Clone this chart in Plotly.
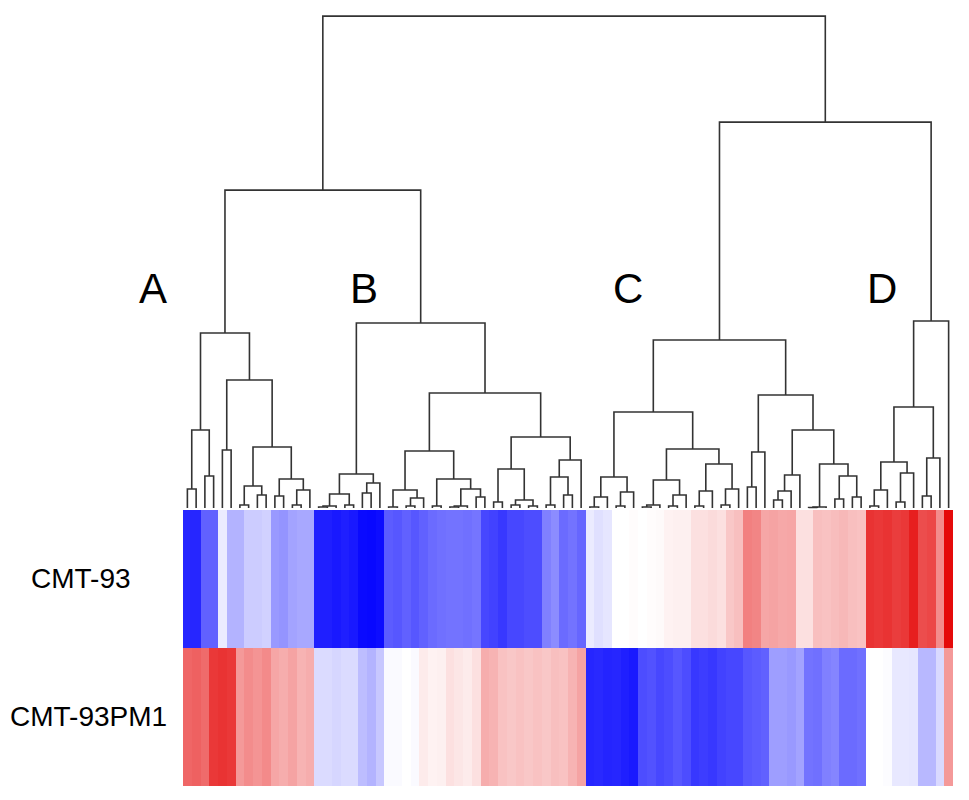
import plotly.graph_objects as go

# ---------------- data ----------------
# dendrogram sub-trees: internal node = [merge height, left, right]; leaf = 0
tree_A = [175, [78, [19, 0, 0], [32, 0, 0]],
          [128, [58, 0, 0], [61, [22, [3, 0, 0], [13, 0, 0]], [29, [12, 0, 0], [18, [3, 0, 0], 0]]]]]
tree_B1 = [34, [14, [2, [1, 0, 0], 0], [3, 0, 0]], [25, [15, 0, 0], 0]]
tree_B2a = [57, [18, [1, 0, 0], [10, [2, 0, 0], 0]],
            [29, [2, 0, 0], [19, [2, [1, 0, 0], 0], [11, 0, 0]]]]
tree_B2b = [71, [39, [6, 0, 0], [8, [3, 0, 0], [2, 0, 0]]],
            [48, [31, [3, 0, 0], [13, 0, 0]], 0]]
tree_C1 = [96, [31, [11, [1, 0, 0], 0], [16, [2, 0, 0], 0]],
           [59, [28, [3, [1, 0, 0], 0], [13, [2, 0, 0], 0]],
            [44, [17, [2, 0, 0], 0], [19, [3, 0, 0], 0]]]]
tree_C2 = [113, [56, [21, 0, 0], 0],
           [78, [33, [17, [8, 0, 0], 0], 0],
            [44, [1, [0.5, 0, 0], 0], [32, [9, 0, 0], [11, 0, 0]]]]]
tree_D = [187, [101, [46, [18, [2, 0, 0], 0], [35, [6, 0, 0], 0]], [50, [12, 0, 0], 0]], 0]

height_B = 185
height_B2 = 115
height_C = 168
height_AB = 318
height_CD = 386
height_root = 492

cluster_labels = ["A", "B", "C", "D"]
row_labels = ["CMT-93", "CMT-93PM1"]

# expression values per leaf (88 leaves), row CMT-93
values_cmt93 = [
    -0.85, -0.85, -0.62, -0.62, -0.08, -0.30, -0.30, -0.20, -0.20, -0.18,
    -0.40, -0.42, -0.36, -0.34, -0.34,
    -0.88, -0.88, -0.90, -0.88, -0.90, -0.96, -0.97, -0.95,
    -0.64, -0.66, -0.62, -0.66, -0.62, -0.58, -0.56, -0.55, -0.55, -0.56, -0.54,
    -0.72, -0.74, -0.78, -0.72, -0.72, -0.70, -0.70, -0.50, -0.45, -0.58, -0.55, -0.60,
    -0.08, -0.12, -0.10, 0.00, 0.00, 0.01, 0.00, 0.01, 0.02, 0.05, 0.06, 0.06,
    0.12, 0.12, 0.14, 0.12, 0.22, 0.25, 0.50, 0.48, 0.35, 0.36, 0.34, 0.35,
    0.12, 0.12, 0.25, 0.24, 0.26, 0.28, 0.25, 0.24,
    0.80, 0.78, 0.80, 0.76, 0.78, 0.88, 0.70, 0.72, 0.45, 0.96,
]
# row CMT-93PM1
values_cmt93pm1 = [
    0.60, 0.62, 0.58, 0.78, 0.80, 0.78, 0.40, 0.45, 0.42, 0.46,
    0.35, 0.32, 0.36, 0.30, 0.32,
    -0.14, -0.14, -0.16, -0.14, -0.14, -0.26, -0.30, -0.22,
    -0.02, -0.02, 0.00, -0.02, 0.08, 0.05, 0.06, 0.12, 0.10, 0.08, 0.12,
    0.32, 0.30, 0.24, 0.22, 0.24, 0.22, 0.24, 0.22, 0.25, 0.24, 0.30, 0.36,
    -0.85, -0.84, -0.86, -0.85, -0.88, -0.90, -0.70, -0.68, -0.72, -0.70, -0.66, -0.70,
    -0.78, -0.76, -0.78, -0.74, -0.72, -0.72, -0.66, -0.64, -0.62, -0.38, -0.38, -0.40,
    -0.36, -0.55, -0.56, -0.50, -0.48, -0.58, -0.58, -0.56,
    0.00, 0.00, -0.01, -0.09, -0.09, -0.10, -0.28, -0.28, -0.15, 0.40,
]

# ---------------- build tree ----------------
tree_root = [height_root,
             [height_AB, tree_A, [height_B, tree_B1, [height_B2, tree_B2a, tree_B2b]]],
             [height_CD, [height_C, tree_C1, tree_C2], tree_D]]

seg_x, seg_y = [], []
counter = [0]


def walk(node):
    if not isinstance(node, list):
        x = counter[0]
        counter[0] += 1
        return x, 0.0
    h, left, right = node
    xl, hl = walk(left)
    xr, hr = walk(right)
    seg_x.extend([xl, xl, xr, xr, None])
    seg_y.extend([hl, h, h, hr, None])
    return (xl + xr) / 2.0, h


walk(tree_root)
n_leaves = counter[0]
leaf_index = list(range(n_leaves))

fig = go.Figure()

fig.add_trace(go.Scatter(
    x=seg_x, y=seg_y, mode="lines",
    line=dict(color="#333333", width=1.6),
    hoverinfo="skip", showlegend=False,
    xaxis="x", yaxis="y",
))

fig.add_trace(go.Heatmap(
    x=leaf_index,
    y=[0, 1],
    z=[values_cmt93pm1, values_cmt93],
    zmin=-1, zmax=1,
    colorscale=[[0.0, "rgb(0,0,255)"], [0.5, "rgb(255,255,255)"], [1.0, "rgb(228,0,0)"]],
    showscale=False,
    xaxis="x", yaxis="y2",
))

# page has an 8px body margin; figure is sized to fit inside the window
OFF = 8
W, H = 969 - 2 * OFF, 800 - 2 * OFF
heat_left, heat_right, heat_top, heat_bottom = 183 - OFF, 953 - OFF, 510 - OFF, 786 - OFF
ml, mr, mt, mb = heat_left, W - heat_right, 0, H - heat_bottom
plot_h = H - mt - mb
plot_w = W - ml - mr
split = (heat_bottom - heat_top) / plot_h
# dendrogram: height 0 at heat_top, root (492) at page y 16
dendro_px = heat_top - mt
top_h = height_root + (16 - OFF - mt) * (height_root + 2) / (heat_top - 16)

fig.update_layout(
    width=W, height=H,
    margin=dict(l=ml, r=mr, t=mt, b=mb),
    paper_bgcolor="white", plot_bgcolor="white",
    font=dict(family="Liberation Sans, Arial, sans-serif", color="black"),
    xaxis=dict(range=[-0.5, n_leaves - 0.5], visible=False, showgrid=False, zeroline=False),
    yaxis=dict(domain=[split, 1.0], range=[-2, top_h], visible=False, showgrid=False, zeroline=False),
    yaxis2=dict(domain=[0.0, split], range=[-0.5, 1.5], visible=False, showgrid=False, zeroline=False),
)


def px_to_paper_x(px):
    return (px - OFF - ml) / plot_w


def py_to_paper_y(py):
    return (H - mb - (py - OFF)) / plot_h


row_label_pos = [(81, 578), (88, 716)]
for text, (px, py) in zip(row_labels, row_label_pos):
    fig.add_annotation(text=text, x=px_to_paper_x(px), y=py_to_paper_y(py),
                       xref="paper", yref="paper", showarrow=False,
                       xanchor="center", yanchor="middle",
                       font=dict(size=28, color="black"))

letter_pos = [(153, 288), (364, 288), (628, 288), (882, 288)]
for text, (px, py) in zip(cluster_labels, letter_pos):
    fig.add_annotation(text=text, x=px_to_paper_x(px), y=py_to_paper_y(py),
                       xref="paper", yref="paper", showarrow=False,
                       xanchor="center", yanchor="middle",
                       font=dict(size=42, color="black"))

fig.write_html("out.html")
